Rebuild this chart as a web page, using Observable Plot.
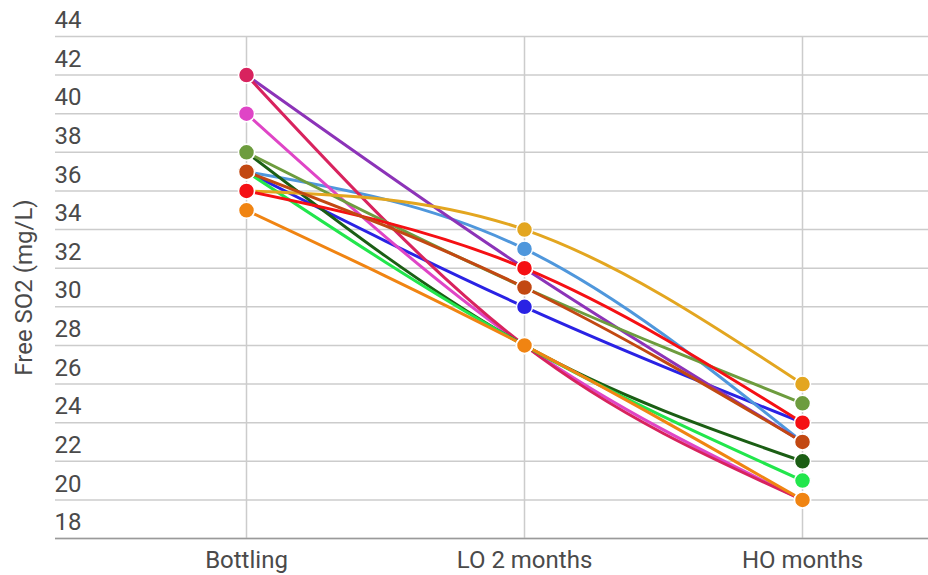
<!DOCTYPE html>
<html><head><meta charset="utf-8">
<script src="https://cdn.jsdelivr.net/npm/d3@7"></script>
<script src="https://cdn.jsdelivr.net/npm/@observablehq/plot@0.6"></script>
<style>html,body{margin:0;padding:0;background:#fff} svg{display:block}</style>
</head><body><div id="chart"></div>
<script>
const categories = ["Bottling", "LO 2 months", "HO months"];
const yTicks = [18, 20, 22, 24, 26, 28, 30, 32, 34, 36, 38, 40, 42, 44];
const seriesNames = ["Blue", "Light blue", "Purple", "Magenta", "Crimson", "Dark green", "Olive", "Bright green", "Gold", "Red", "Brown", "Orange"];
const seriesColors = ["#2a22e4", "#4f97dc", "#8c33b8", "#df45c6", "#d8235e", "#1b5e14", "#6d9c3e", "#22e64c", "#e3a620", "#f51014", "#c24812", "#f08412"];
const blueVals = [37, 30, 24];
const lightBlueVals = [37, 33, 23];
const purpleVals = [42, 32, 23];
const magentaVals = [40, 28, 20];
const crimsonVals = [42, 28, 20];
const darkGreenVals = [38, 28, 22];
const oliveVals = [38, 31, 25];
const brightGreenVals = [37, 28, 21];
const goldVals = [36, 34, 26];
const redVals = [36, 32, 24];
const brownVals = [37, 31, 23];
const orangeVals = [35, 28, 20];

const allVals = [blueVals, lightBlueVals, purpleVals, magentaVals, crimsonVals, darkGreenVals, oliveVals, brightGreenVals, goldVals, redVals, brownVals, orangeVals];
const rows = [];
allVals.forEach((vals, i) => vals.forEach((v, j) => rows.push({series: seriesNames[i], stage: categories[j], value: v})));

const plot = Plot.plot({
  width: 928, height: 575,
  marginLeft: 55, marginRight: 0, marginTop: 36, marginBottom: 37,
  style: {fontFamily: "Roboto", fontSize: "24px", color: "#4a4a4a", background: "#fff"},
  x: {type: "point", domain: categories, range: [245, 802], padding: 0},
  y: {domain: [18, 44]},
  color: {domain: seriesNames, range: seriesColors},
  marks: [
    Plot.gridY(yTicks, {stroke: "#cccccc", strokeOpacity: 1, strokeWidth: 1.5}),
    Plot.gridX(categories, {stroke: "#cccccc", strokeOpacity: 1, strokeWidth: 1.5}),
    Plot.ruleY([18], {stroke: "#9a9a9a", strokeWidth: 1.5}),
    Plot.axisY(yTicks, {tickSize: 0, textAnchor: "start", dx: 8, dy: -16, label: "Free SO2 (mg/L)", labelAnchor: "center", labelArrow: "none", labelOffset: 41, fill: "#4a4a4a"}),
    Plot.axisX(categories, {tickSize: 0, tickPadding: 12, label: null, fill: "#4a4a4a"}),
    Plot.line(rows, {x: "stage", y: "value", z: "series", stroke: "series", strokeWidth: 3, curve: "natural"}),
    Plot.dot(rows, {x: "stage", y: "value", fill: "series", r: 8, stroke: "white", strokeWidth: 1.5})
  ]
});
document.getElementById("chart").appendChild(plot);
</script>
</body></html>
